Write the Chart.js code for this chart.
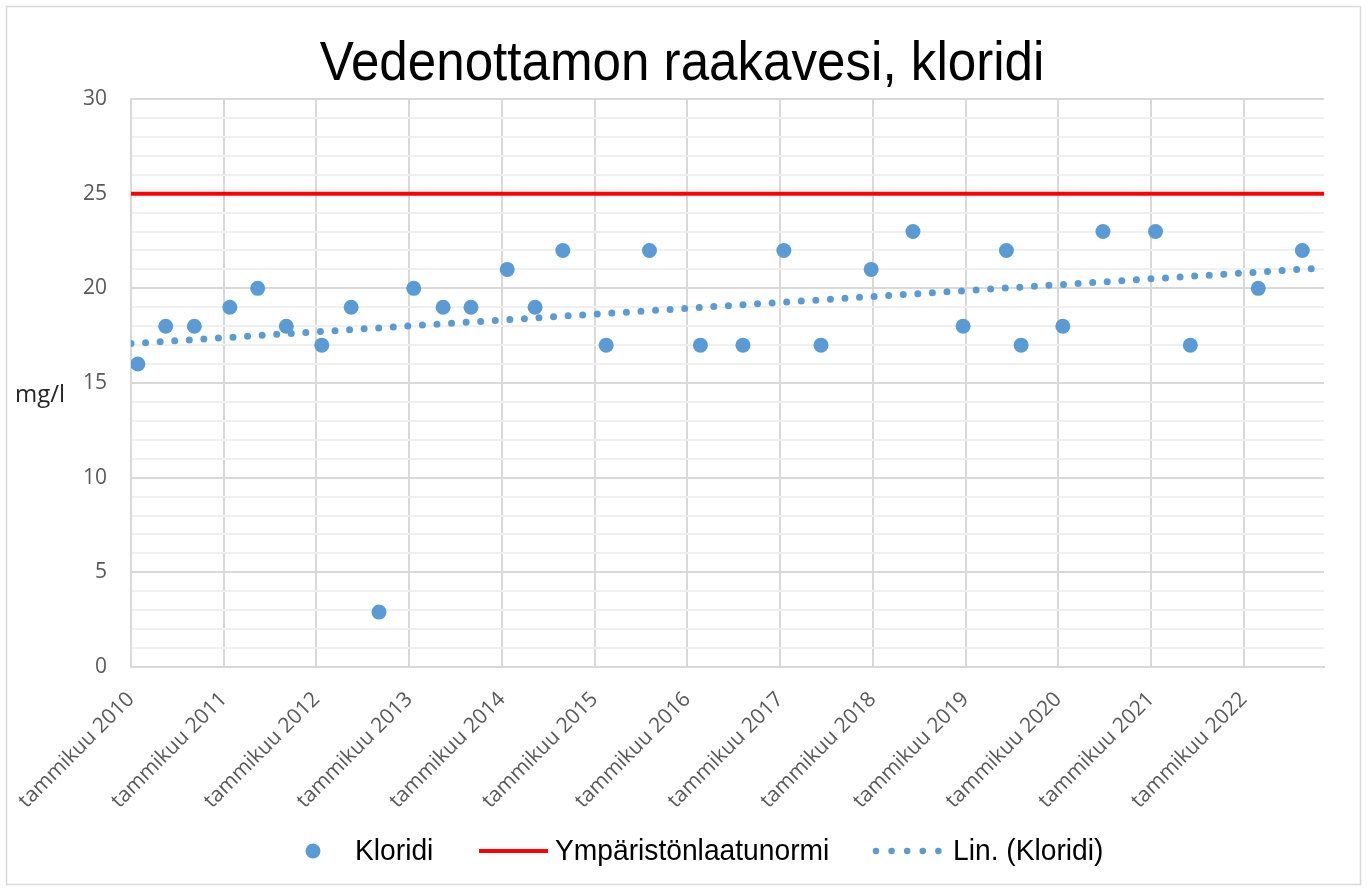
<!DOCTYPE html>
<html><head><meta charset="utf-8">
<script src="https://cdn.jsdelivr.net/npm/chart.js@4.4.1/dist/chart.umd.min.js"></script>
<style>html,body{margin:0;padding:0;background:#fff;} canvas{display:block;}</style>
</head><body>
<canvas id="c" width="1367" height="890"></canvas>
<script>
const chartTitle = 'Vedenottamon raakavesi, kloridi';
const yAxisTitle = 'mg/l';
const seriesNames = ['Kloridi', 'Ympäristönlaatunormi', 'Lin. (Kloridi)'];
const tickPrefix = 'tammikuu';
const sampleDates = ['2010-01-28','2010-05-16','2010-09-07','2011-01-25','2011-05-13','2011-09-04',
  '2012-01-22','2012-05-16','2012-09-04','2013-01-19','2013-05-13','2013-09-01',
  '2014-01-22','2014-05-10','2014-08-28','2015-02-16','2015-08-04','2016-02-22',
  '2016-08-07','2017-01-16','2017-06-10','2017-12-25','2018-06-07','2018-12-22',
  '2019-06-10','2019-08-07','2020-01-19','2020-06-25','2021-01-19','2021-06-04',
  '2022-02-28','2022-08-19'];
const kloridiValues = [16,18,18,19,20,18,17,19,2.9,20,19,19,21,19,22,17,22,17,17,22,17,21,23,18,22,17,18,23,23,17,20,22];
const axisStartDate = '2010-01-01';
const axisEndDate = '2022-11-13';
const normValue = 25;
const trendStartValue = 17.08;
const trendEndValue = 21.08;
const yTickLabels = [0,5,10,15,20,25,30];

function toMonths(s){ const [y,m,d]=s.split('-').map(Number); return (y-2010)*12+(m-1)+(d-1)/30.4; }
const xMin = toMonths(axisStartDate), xMax = toMonths(axisEndDate);

const BLUE = '#5B9BD5';
const decor = {
  id:'decor',
  afterDraw(chart){
    const ctx = chart.ctx;
    ctx.save();
    ctx.strokeStyle = '#d9d9d9'; ctx.lineWidth = 1.5;
    ctx.strokeRect(6.5, 6.5, 1354, 878);
    // title
    ctx.fillStyle = '#000';
    ctx.font = '56px "Liberation Sans", Arial, sans-serif';
    ctx.textBaseline = 'alphabetic'; ctx.textAlign = 'center';
    ctx.save(); ctx.translate(682, 80); ctx.scale(0.913, 1); ctx.fillText(chartTitle, 0, 0); ctx.restore();
    // y axis title
    ctx.fillStyle = '#262626';
    ctx.font = '24px "Open Sans", sans-serif';
    ctx.textAlign = 'left'; ctx.textBaseline = 'middle';
    ctx.fillText(yAxisTitle, 15, 395);
    // legend
    const ly = 851;
    ctx.fillStyle = BLUE;
    ctx.beginPath(); ctx.arc(313, ly, 7.5, 0, Math.PI*2); ctx.fill();
    ctx.strokeStyle = '#FF0000'; ctx.lineWidth = 4;
    ctx.beginPath(); ctx.moveTo(479, ly); ctx.lineTo(548, ly); ctx.stroke();
    ctx.fillStyle = BLUE;
    for (let i=0;i<5;i++){ ctx.beginPath(); ctx.arc(876+i*15.6, ly, 3.3, 0, Math.PI*2); ctx.fill(); }
    ctx.fillStyle = '#000';
    ctx.font = '30px "Liberation Sans", Arial, sans-serif';
    ctx.textAlign = 'left'; ctx.textBaseline = 'middle';
    [[355, seriesNames[0]],[555, seriesNames[1]],[953, seriesNames[2]]].forEach(([x,t])=>{
      ctx.save(); ctx.translate(x, ly+1); ctx.scale(0.94,1); ctx.fillText(t,0,0); ctx.restore();
    });
    ctx.restore();
  }
};

new Chart(document.getElementById('c'), {
  type:'scatter',
  data:{
    datasets:[
      { label: seriesNames[0], data: sampleDates.map((d,i)=>({x:toMonths(d), y:kloridiValues[i]})),
        pointRadius:7.5, pointHoverRadius:7.5, backgroundColor:BLUE, borderWidth:0, showLine:false, order:2 },
      { label: seriesNames[1], type:'line', data:[{x:xMin,y:normValue},{x:xMax,y:normValue}],
        borderColor:'#FF0000', borderWidth:4, pointRadius:0, fill:false, order:1 },
      { label: seriesNames[2], type:'line', data:[{x:xMin,y:trendStartValue},{x:xMax,y:trendEndValue}],
        borderColor:BLUE, borderWidth:7, borderDash:[0,14.6], borderCapStyle:'round', pointRadius:0, fill:false, order:0 }
    ]
  },
  options:{
    responsive:false, animation:false, devicePixelRatio:1,
    layout:{padding:{top:99,left:0,right:43,bottom:73}},
    plugins:{legend:{display:false}, title:{display:false}, tooltip:{enabled:false}},
    scales:{
      x:{ type:'linear', min:xMin, max:xMax,
        afterFit(s){ s.height = 150; },
        grid:{ color:'#d9d9d9', lineWidth:2, drawTicks:false },
        border:{ color:'#d9d9d9', width:2 },
        ticks:{ stepSize:12, includeBounds:false, autoSkip:false, maxRotation:45, minRotation:45, padding:20,
          color:'#595959', font:{family:'"Open Sans", sans-serif', size:21},
          callback:(v)=> tickPrefix + ' ' + (2010 + Math.round(v/12)) }
      },
      y:{ min:0, max:30,
        afterFit(s){ s.width = 131; },
        grid:{ color:(c)=> (c.tick && c.tick.value % 5 === 0) ? '#d9d9d9' : '#f0f0f0', lineWidth:2, drawTicks:false },
        border:{ color:'#d9d9d9', width:2 },
        ticks:{ stepSize:1, autoSkip:false, padding:24, color:'#595959', font:{family:'"Open Sans", sans-serif', size:21},
          callback:(v)=> yTickLabels.includes(v) ? String(v) : '' }
      }
    }
  },
  plugins:[decor]
});
</script>
</body></html>
